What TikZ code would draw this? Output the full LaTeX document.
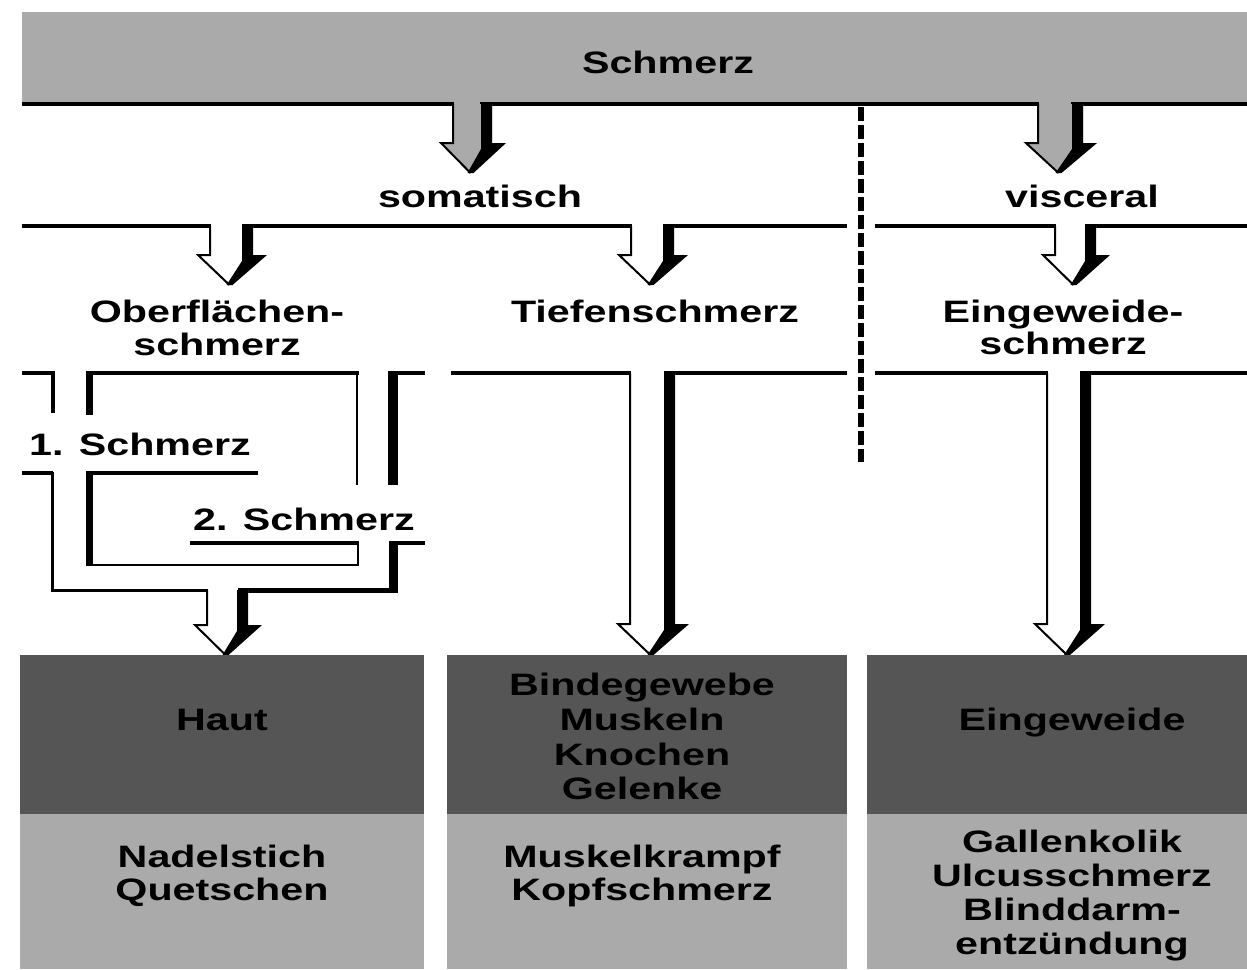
\documentclass[tikz,border=0pt]{standalone}
\usepackage{fontspec}
\setmainfont{Liberation Sans}
\newfontfamily\widefont[FakeStretch=1.33]{Liberation Sans}
\definecolor{barg}{HTML}{AAAAAA}
\definecolor{darkg}{HTML}{555555}
\tikzset{
  lbl/.style={font=\widefont\bfseries\fontsize{31}{34}\selectfont, inner sep=0pt, anchor=base},
  thinw/.style={line width=2pt},
  medw/.style={line width=4pt},
  heavyw/.style={line width=5pt},
}
% block arrow: #1 left wall x, #2 right outer x, #3 top y, #4 head y, #5 tip y, #6 fill
\newcommand\blkarrow[6]{%
  \pgfmathsetmacro\bxl{#1-12}%
  \pgfmathsetmacro\bxr{#2+14}%
  \pgfmathsetmacro\bra{#2-11}%
  \pgfmathsetmacro\bxt{(#1+#2+2)/2-3}%
  \fill[#6] (#1,#3) -- (#1,#4) -- (\bxl,#4) -- (\bxt,#5) -- (\bxr,#4) -- (#2,#4) -- (#2,#3) -- cycle;
  \draw[thinw, line join=miter] (#1,#3) -- (#1,#4) -- (\bxl,#4) -- (\bxt,#5);
  \fill[black] (\bra,#3) -- (#2,#3) -- (#2,#4) -- (\bxr,#4) -- (\bxt+3,#5) -- (\bxt-3,#5) -- (\bra,#4+6) -- cycle;
}
\begin{document}
\begin{tikzpicture}[x=1pt,y=-1pt]
\fill[white] (0,0) rectangle (1247,969);
\useasboundingbox (0,0) rectangle (1247,969);

% top bar
\fill[barg] (22,12) rectangle (1247,104);
\draw[medw] (22,104) -- (454,104);
\draw[medw] (480,104) -- (1039,104);
\draw[medw] (1071,104) -- (1247,104);
\blkarrow{453}{492}{104}{143}{173}{barg}
\blkarrow{1038}{1083}{104}{143}{173}{barg}

% dashed divider
\draw[line width=6pt, dash pattern=on 14pt off 4pt] (861,107) -- (861,462);

% level 2
\draw[medw] (22,226) -- (211,226);
\draw[medw] (242,226) -- (632,226);
\draw[medw] (663,226) -- (847,226);
\draw[medw] (875,226) -- (1056,226);
\draw[medw] (1085,226) -- (1247,226);
\blkarrow{210}{253}{226}{255}{285}{white}
\blkarrow{631}{674}{226}{255}{285}{white}
\blkarrow{1055}{1096}{226}{255}{285}{white}

% level 3, middle and right
\draw[medw] (451,373) -- (631,373);
\draw[medw] (664,373) -- (847,373);
\draw[medw] (875,373) -- (1048,373);
\draw[medw] (1080,373) -- (1247,373);
\blkarrow{630}{675}{373}{624}{655}{white}
\blkarrow{1047}{1091}{373}{624}{655}{white}

% level 3, left (1. / 2. Schmerz)
\draw[medw, line join=miter] (22,373) -- (53,373) -- (53,413);
\fill[black] (86,371) rectangle (93,415);
\draw[medw] (86,373) -- (359,373);
\draw[thinw] (357,373) -- (357,485);
\fill[black] (388,371) rectangle (398,485);
\draw[medw] (388,373) -- (425,373);

\draw[medw] (22,473) -- (53,473);
\draw[line width=3pt, line join=miter] (52,472) -- (52,590) -- (208,590);
\fill[black] (86,471) rectangle (93,566);
\draw[medw] (86,473) -- (258,473);
\draw[thinw, line join=miter] (86,565) -- (358,565) -- (358,542);
\draw[medw] (190,543) -- (359,543);
\draw[heavyw] (238,590) -- (394,590);
\fill[black] (389,541) rectangle (398,592.5);
\draw[medw] (389,543) -- (425,543);
\blkarrow{207}{248}{590}{625}{655}{white}

% bottom boxes
\fill[darkg] (20,655) rectangle (424,814);
\fill[barg] (20,814) rectangle (424,969);
\fill[darkg] (447,655) rectangle (847,814);
\fill[barg] (447,814) rectangle (847,969);
\fill[darkg] (867,655) rectangle (1247,814);
\fill[barg] (867,814) rectangle (1247,969);

% texts
\node[lbl] (schmerz) at (668,73) {Schmerz};
\node[lbl] (som) at (480,207) {somatisch};
\node[lbl] (visc) at (1082,207) {visceral};
\node[lbl] (obA) at (217,322) {Oberflächen-};
\node[lbl] (obB) at (217,355) {schmerz};
\node[lbl] (tief) at (655,322) {Tiefenschmerz};
\node[lbl] (einA) at (1063,322) {Eingeweide-};
\node[lbl] (einB) at (1063,354) {schmerz};
\node[lbl] (sA) at (140,455) {1. Schmerz};
\node[lbl] (sB) at (304,530) {2. Schmerz};

\node[lbl] (haut) at (222,730) {Haut};
\node[lbl] (bgA) at (642,695) {Bindegewebe};
\node[lbl] (bgB) at (642,730) {Muskeln};
\node[lbl] (bgC) at (642,765) {Knochen};
\node[lbl] (bgD) at (642,799) {Gelenke};
\node[lbl] (eing) at (1072,730) {Eingeweide};

\node[lbl] (naA) at (222,867) {Nadelstich};
\node[lbl] (naB) at (222,900) {Quetschen};
\node[lbl] (muA) at (642,867) {Muskelkrampf};
\node[lbl] (muB) at (642,900) {Kopfschmerz};
\node[lbl] (gaA) at (1072,852) {Gallenkolik};
\node[lbl] (gaB) at (1072,886) {Ulcusschmerz};
\node[lbl] (gaC) at (1072,920) {Blinddarm-};
\node[lbl] (gaD) at (1072,954) {entzündung};
\end{tikzpicture}
\end{document}
